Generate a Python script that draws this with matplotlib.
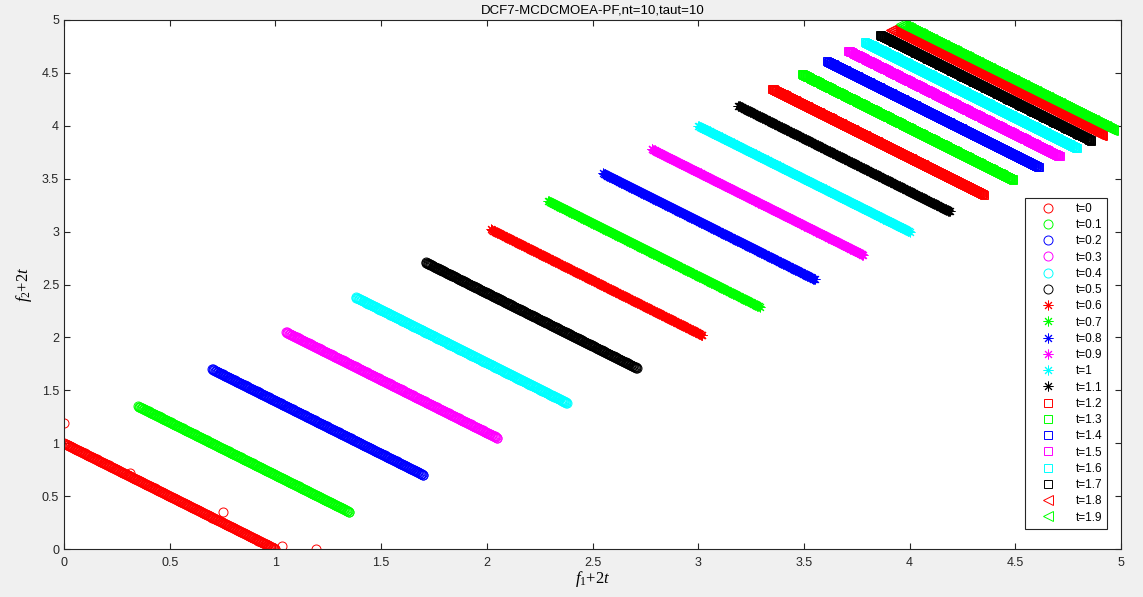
import numpy as np
import matplotlib
matplotlib.use("Agg")
import matplotlib.pyplot as plt
from matplotlib.ticker import MultipleLocator, FormatStrFormatter

plt.rcParams['font.family'] = ['Liberation Sans', 'DejaVu Sans']
plt.rcParams['mathtext.fontset'] = 'custom'
plt.rcParams['mathtext.it'] = 'Liberation Serif:italic'
plt.rcParams['mathtext.rm'] = 'Liberation Serif'

# time steps and the offset (f1 at the upper-left end) of each front
t_labels = ["t=0", "t=0.1", "t=0.2", "t=0.3", "t=0.4", "t=0.5", "t=0.6", "t=0.7",
            "t=0.8", "t=0.9", "t=1", "t=1.1", "t=1.2", "t=1.3", "t=1.4", "t=1.5",
            "t=1.6", "t=1.7", "t=1.8", "t=1.9"]
front_start = [0.00, 0.35, 0.70, 1.05, 1.38, 1.71, 2.02, 2.29, 2.55, 2.78,
               3.00, 3.19, 3.35, 3.49, 3.61, 3.71, 3.79, 3.86, 3.91, 3.96]
front_width = [1.00, 1.00, 1.00, 1.00, 1.00, 1.00, 1.00, 1.00, 1.00, 1.00,
               1.00, 1.00, 1.00, 1.00, 1.00, 1.00, 1.00, 1.00, 1.00, 1.00]
colors = ['#ff0000', '#00ff00', '#0000ff', '#ff00ff', '#00ffff', '#000000'] * 3 + ['#ff0000', '#00ff00']
markers = ['o'] * 6 + [(8, 2, 0)] * 6 + ['s'] * 6 + ['<'] * 2

# stray solutions of the t=0 population
outlier_f1 = [0.00, 1.19, 0.75, 1.03, 0.31]
outlier_f2 = [1.19, 0.00, 0.35, 0.03, 0.72]

# samples along each front (position along f1 in [0, 1])
pf_s = np.linspace(0, 1, 300)

fig = plt.figure(figsize=(11.43, 5.97), dpi=100, facecolor='#f0f0f0')
ax = fig.add_axes([0.056, 0.0804, 0.9248, 0.8861])

for i, lab in enumerate(t_labels):
    g = front_start[i]
    w = front_width[i]
    f1 = g + w * pf_s
    f2 = g + w * (1 - pf_s)
    if i == 0:
        f1 = np.concatenate([f1, outlier_f1])
        f2 = np.concatenate([f2, outlier_f2])
    m = markers[i]
    ms = 6.5 if m in ('o', '<') else (5.5 if m == 's' else 7)
    ax.plot(f1, f2, linestyle='none', marker=m, markersize=ms,
            markerfacecolor='none', markeredgecolor=colors[i],
            markeredgewidth=0.7, label=lab)

ax.set_xlim(0, 5)
ax.set_ylim(0, 5)
ax.xaxis.set_major_locator(MultipleLocator(0.5))
ax.yaxis.set_major_locator(MultipleLocator(0.5))
ax.xaxis.set_major_formatter(FormatStrFormatter('%g'))
ax.yaxis.set_major_formatter(FormatStrFormatter('%g'))
ax.tick_params(direction='in', top=True, right=True, length=4, width=0.8,
               labelsize=9, colors='#262626')
ax.tick_params(axis='x', pad=6)
for sp in ax.spines.values():
    sp.set_color('#262626')
    sp.set_linewidth(0.8)

ax.set_title("DCF7-MCDCMOEA-PF,nt=10,taut=10", fontsize=9.5, pad=5)
ax.set_xlabel(r'$f_1\mathit{+2t}$', fontsize=12, labelpad=0)
ax.set_ylabel(r'$f_2\mathit{+2t}$', fontsize=12, labelpad=6)

leg = ax.legend(loc='lower right', bbox_to_anchor=(0.987, 0.038), borderaxespad=0,
                fontsize=8.5, labelspacing=0.36, handletextpad=0.8, handlelength=3.0,
                fancybox=False, framealpha=1, edgecolor='#262626', borderpad=0.45)
leg.get_frame().set_linewidth(0.8)

fig.savefig("out.png", dpi=100, facecolor=fig.get_facecolor())
